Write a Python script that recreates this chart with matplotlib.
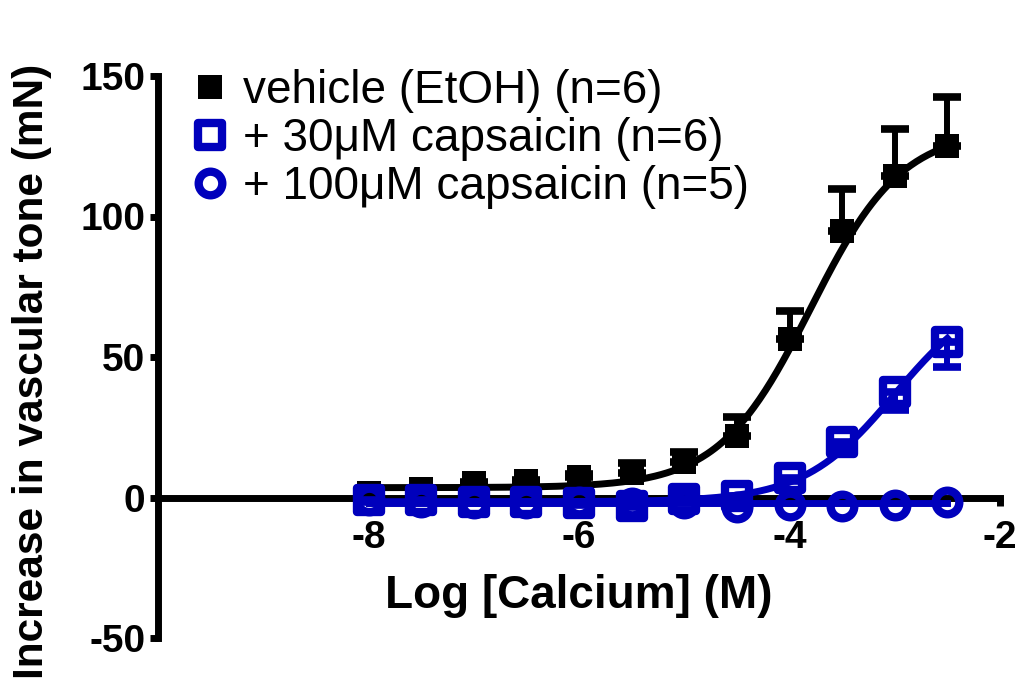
#!/usr/bin/env python

import numpy as np
from matplotlib import pyplot as plt
from matplotlib.lines import Line2D
from matplotlib.markers import MarkerStyle

blue = '#0000BC'

# log [Ca2+] (M)
logCa = [-8, -7.5, -7, -6.5, -6, -5.5, -5, -4.5, -4, -3.5, -3, -2.5]

# mean increase in tone (mN) and SEM
vehicle = [1.5, 3, 5, 5.7, 7.3, 8.6, 12.6, 21.8, 56.3, 94.8, 114.4, 125.1]
vehicleSem = [0.5, 0.5, 0.5, 0.5, 1, 3.7, 3.6, 6.9, 9.9, 15.1, 16.6, 17.6]
caps30 = [-1, -1, -1.5, -1.5, -2, -3, -0.5, 0.7, 6.8, 19.6, 37.5, 55.4]
caps30Sem = [0.5, 0.5, 0.5, 0.5, 0.5, 0.5, 0.5, 0.5, 1, 2, 6.5, 9]
caps100 = [-1, -1.5, -2, -2, -1.5, -2, -2, -3.5, -2.5, -3, -2.5, -1.5]

# sigmoidal fits: bottom, top, logEC50, hill slope
vehicleFit = (3.5, 131, -3.8, 1.0)
caps30Fit = (-1.5, 75, -3.0, 1.0)
caps100Fit = (-2, -2, -4.0, 1.0)

labels = ['vehicle (EtOH) (n=6)', '+ 30\u03bcM capsaicin (n=6)',
	'+ 100\u03bcM capsaicin (n=5)']

def doseResponse(x, bottom, top, logEC50, hill):

	return bottom + (top - bottom) / (1 + 10 ** ((logEC50 - x) * hill))

plt.rc('font', family='Liberation Sans')
plt.rc('axes', unicode_minus=False)
fig = plt.figure(figsize=(10.28, 6.81), dpi=100)
ax = fig.add_axes([158/1028., 43/681., 842/1028., 562/681.])

xFit = np.linspace(logCa[0], logCa[-1], 300)
zero = np.zeros(len(logCa))

sq = MarkerStyle('s', joinstyle='round')
circ = MarkerStyle('o')
ms = 17
mew = 6
lw = 5

# vehicle: error bars above
ax.plot(xFit, doseResponse(xFit, *vehicleFit), color='k', lw=lw, zorder=3)
eb = ax.errorbar(logCa, vehicle, yerr=[zero, vehicleSem], fmt='none', ecolor='k',
	elinewidth=4.3, capsize=10, capthick=5.5, zorder=3)
ax.plot(logCa, vehicle, 's', color='k', ms=ms, mew=0, zorder=4)

# 30 uM capsaicin: error bars below
ax.plot(xFit, doseResponse(xFit, *caps30Fit), color=blue, lw=lw, zorder=5)
eb2 = ax.errorbar(logCa, caps30, yerr=[caps30Sem, zero], fmt='none', ecolor=blue,
	elinewidth=4.3, capsize=10, capthick=5.5, zorder=5)
ax.plot(logCa, caps30, ls='none', marker=sq, mfc='none', mec=blue, mew=mew,
	ms=ms, zorder=6)

# 100 uM capsaicin
ax.plot(xFit, doseResponse(xFit, *caps100Fit), color=blue, lw=lw, zorder=7)
ax.plot(logCa, caps100, ls='none', marker=circ, mfc='none', mec=blue, mew=mew,
	ms=ms, zorder=8)

for c in [eb, eb2]:
	for cap in c[1]:
		cap.set_solid_capstyle('round')
		cap.set_dash_capstyle('round')

ax.set_xlim(-10, -2)
ax.set_ylim(-50, 150)
ax.spines['top'].set_visible(False)
ax.spines['right'].set_visible(False)
ax.spines['bottom'].set_position(('data', 0))
for s in ['left', 'bottom']:
	ax.spines[s].set_linewidth(5)
	ax.spines[s].set_capstyle('projecting')
ax.set_xticks([-8, -6, -4, -2])
ax.set_yticks([-50, 0, 50, 100, 150])
ax.tick_params(axis='both', length=6, width=5, labelsize=28)
ax.tick_params(axis='x', pad=10)
ax.tick_params(axis='y', pad=3)
for t in ax.get_xticklabels() + ax.get_yticklabels():
	t.set_fontweight('bold')

ax.text(0.5, 0.075, 'Log [Calcium] (M)', transform=ax.transAxes,
	ha='center', va='center', fontsize=33, fontweight='bold')
fig.text(0.031, 0.455, 'Increase in vascular tone (mN)', rotation=90,
	ha='center', va='center', fontsize=30.5, fontweight='bold')

handles = [
	Line2D([], [], ls='none', marker='s', color='k', mew=0, ms=ms),
	Line2D([], [], ls='none', marker=sq, mfc='white', mec=blue, mew=mew, ms=ms),
	Line2D([], [], ls='none', marker=circ, mfc='white', mec=blue, mew=mew, ms=ms),
]
ax.legend(handles, labels, loc='upper left', bbox_to_anchor=(0.046, 1.012),
	frameon=False, fontsize=33, labelspacing=0.085, handlelength=0.6,
	handletextpad=0.4, borderpad=0, borderaxespad=0)

plt.savefig('out.png', dpi=100)
